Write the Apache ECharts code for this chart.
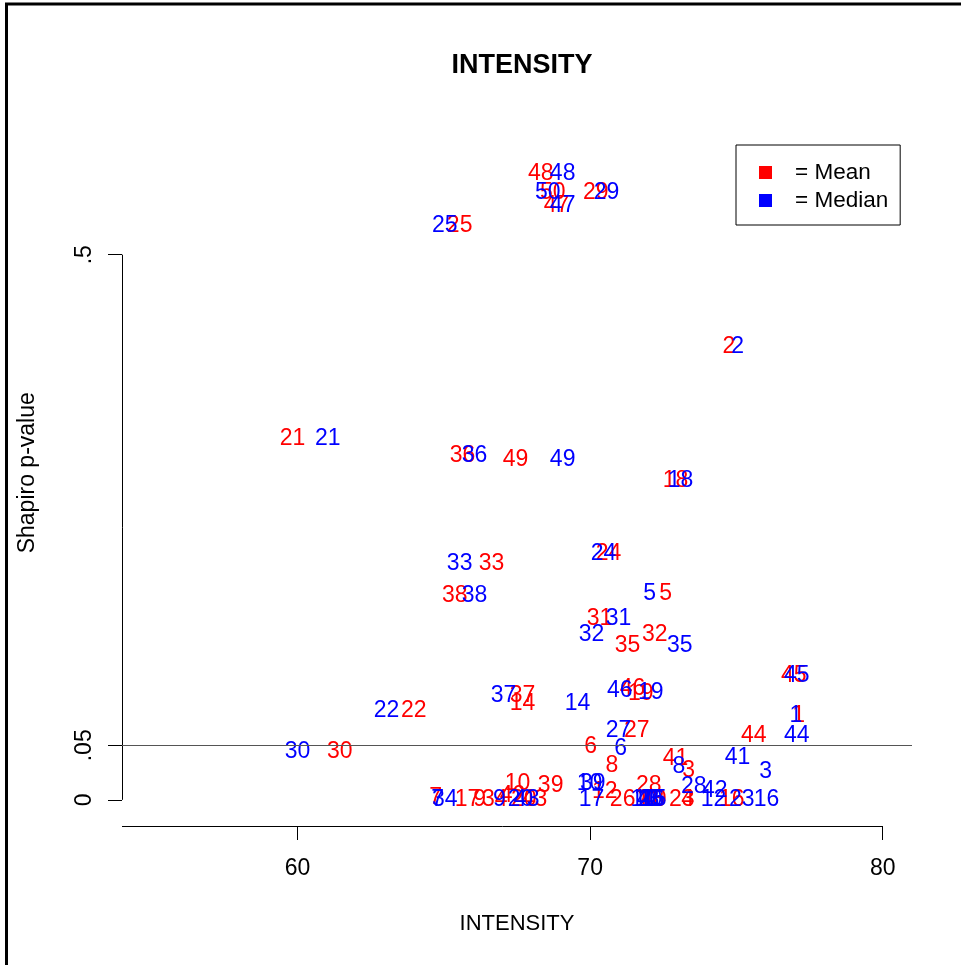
<!DOCTYPE html>
<html>
<head>
<meta charset="utf-8">
<script src="https://cdn.jsdelivr.net/npm/echarts@6/dist/echarts.min.js"></script>
<style>
  html, body { margin: 0; padding: 0; background: #fff; }
  #chart { width: 961px; height: 965px; }
</style>
</head>
<body>
<div id="chart"></div>
<script>
// Subject ids, drawn as text markers
const ids = [1, 2, 3, 4, 5, 6, 7, 8, 9, 10,
  11, 12, 13, 14, 15, 16, 17, 18, 19, 20,
  21, 22, 23, 24, 25, 26, 27, 28, 29, 30,
  31, 32, 33, 34, 35, 36, 37, 38, 39, 40,
  41, 42, 43, 44, 45, 46, 47, 48, 49, 50];

// Mean intensity per subject and its Shapiro p-value
const meanX = [77.13, 74.74, 73.37, 73.33, 72.58, 70.02, 64.72, 70.74, 66.22, 67.52,
  72.00, 70.50, 72.10, 67.69, 72.14, 74.84, 65.81, 72.92, 71.73, 67.73,
  59.83, 63.97, 73.13, 70.63, 65.54, 71.11, 71.59, 72.00, 70.19, 61.44,
  70.32, 72.21, 66.63, 66.74, 71.28, 65.64, 67.69, 65.37, 68.65, 72.17,
  72.92, 67.35, 68.10, 75.59, 76.96, 71.45, 68.85, 68.31, 67.45, 68.72];
const meanP = [0.0771, 0.416, 0.0266, 0.000, 0.189, 0.0487, 0.002, 0.0312, 0.000, 0.0147,
  0.000, 0.0073, 0.000, 0.0882, 0.000, 0.000, 0.000, 0.293, 0.0973, 0.000,
  0.3315, 0.0817, 0.000, 0.226, 0.527, 0.000, 0.0634, 0.0129, 0.5565, 0.0441,
  0.166, 0.1515, 0.2167, 0.000, 0.1414, 0.316, 0.0955, 0.187, 0.0129, 0.000,
  0.0377, 0.0037, 0.000, 0.0588, 0.1139, 0.102, 0.5446, 0.574, 0.312, 0.5565];

// Median intensity per subject and its Shapiro p-value
const medianX = [77.03, 75.04, 76.00, 72.00, 72.03, 71.04, 64.79, 73.03, 66.90, 69.98,
  71.79, 74.22, 71.93, 69.57, 72.17, 76.03, 70.05, 73.09, 72.07, 67.62,
  61.03, 63.04, 75.18, 70.46, 65.03, 72.10, 70.97, 73.54, 70.56, 60.00,
  70.97, 70.05, 65.54, 65.03, 73.06, 66.05, 67.04, 66.05, 70.09, 72.03,
  75.04, 74.26, 67.83, 77.06, 77.06, 71.01, 69.06, 69.06, 69.06, 68.55];
const medianP = [0.0771, 0.416, 0.0257, 0.000, 0.189, 0.0468, 0.000, 0.0303, 0.000, 0.0147,
  0.000, 0.000, 0.000, 0.0882, 0.000, 0.000, 0.000, 0.293, 0.0983, 0.000,
  0.3315, 0.0817, 0.000, 0.226, 0.527, 0.000, 0.0634, 0.0119, 0.5565, 0.0441,
  0.166, 0.1515, 0.2167, 0.000, 0.1414, 0.316, 0.0955, 0.187, 0.0147, 0.000,
  0.0386, 0.0083, 0.000, 0.0588, 0.1139, 0.100, 0.5446, 0.574, 0.312, 0.5565];

// Axis ticks
const xTicks = [60, 70, 80];
const yTicks = [0, 0.05, 0.5];
const yTickLabels = ['0', '.05', '.5'];
const cutoff = 0.05;

const FONT = 'Liberation Sans, Arial, sans-serif';
const X_MIN = 54, X_MAX = 81;
const Y_MIN = -0.024, Y_MAX = 0.624;

function points(xs, ps) {
  return ids.map((id, i) => [xs[i], ps[i], id]);
}

function textSeries(name, color, xs, ps, extra) {
  return Object.assign({
    name: name,
    type: 'scatter',
    xAxisIndex: 0,
    yAxisIndex: 0,
    symbol: 'rect',
    symbolSize: 0,
    itemStyle: { color: color, opacity: 1 },
    label: {
      show: true,
      position: 'inside',
      formatter: p => String(p.value[2]),
      color: color,
      opacity: 1,
      fontSize: 23,
      fontFamily: FONT,
      align: 'center',
      verticalAlign: 'middle'
    },
    emphasis: { disabled: true },
    silent: true,
    data: points(xs, ps)
  }, extra || {});
}

const gridRect = { left: 122, right: 49, top: 119.5, bottom: 139, containLabel: false };

const chart = echarts.init(document.getElementById('chart'), null, { renderer: 'canvas' });

chart.setOption({
  animation: false,
  backgroundColor: '#fff',
  title: {
    text: 'INTENSITY',
    left: 517,
    top: 47,
    textAlign: 'center',
    textStyle: { fontFamily: FONT, fontSize: 27, fontWeight: 'bold', color: '#000' }
  },
  legend: {
    orient: 'vertical',
    left: 736,
    top: 145,
    padding: [16, 12, 13, 23],
    itemGap: 5,
    itemWidth: 13,
    itemHeight: 13,
    icon: 'rect',
    borderColor: '#000',
    borderWidth: 1,
    backgroundColor: '#fff',
    itemStyle: { opacity: 1 },
    textStyle: { fontFamily: FONT, fontSize: 22.5, color: '#000', padding: [0, 0, 0, 18] },
    data: ['= Mean', '= Median']
  },
  // grid 0 holds the data; grid 1 (same rectangle) only carries the bottom axis
  grid: [Object.assign({}, gridRect), Object.assign({}, gridRect)],
  xAxis: [{
    type: 'value', gridIndex: 0, min: X_MIN, max: X_MAX, show: false
  }, {
    type: 'value',
    gridIndex: 1,
    min: X_MIN,
    max: X_MAX,
    position: 'bottom',
    name: 'INTENSITY',
    nameLocation: 'middle',
    nameGap: 87,
    nameTextStyle: { fontFamily: FONT, fontSize: 22, color: '#000' },
    axisLine: { show: false, onZero: false },
    splitLine: { show: false },
    axisTick: { show: true, customValues: xTicks, length: 14, lineStyle: { color: '#000' } },
    axisLabel: { customValues: xTicks, margin: 31, fontFamily: FONT, fontSize: 23, color: '#000' }
  }],
  yAxis: [{
    type: 'value',
    gridIndex: 0,
    min: Y_MIN,
    max: Y_MAX,
    name: 'Shapiro p-value',
    nameLocation: 'middle',
    nameGap: 83,
    nameTextStyle: { fontFamily: FONT, fontSize: 23, color: '#000' },
    axisLine: { show: false, onZero: false },
    splitLine: { show: false },
    axisTick: { show: true, customValues: yTicks, length: 14, lineStyle: { color: '#000' } },
    axisLabel: {
      customValues: yTicks,
      rotate: 90,
      margin: 26,
      fontFamily: FONT,
      fontSize: 23,
      color: '#000',
      formatter: v => {
        const k = yTicks.findIndex(t => Math.abs(t - v) < 1e-9);
        return k >= 0 ? yTickLabels[k] : '';
      }
    }
  }, {
    type: 'value', gridIndex: 1, min: 1, max: 2, show: false
  }],
  graphic: [{
    type: 'rect',
    silent: true,
    shape: { x: 6.5, y: 4, width: 1000, height: 1000 },
    style: { fill: 'none', stroke: '#000', lineWidth: 3 }
  }],
  series: [
    textSeries('= Mean', '#ff0000', meanX, meanP, {
      markLine: {
        silent: true,
        symbol: 'none',
        label: { show: false },
        emphasis: { disabled: true },
        lineStyle: { color: '#000', width: 1, type: 'solid', opacity: 1 },
        data: [
          [{ coord: [X_MIN, Y_MIN] }, { coord: [xTicks[xTicks.length - 1], Y_MIN] }],
          [{ coord: [X_MIN, yTicks[0]] }, { coord: [X_MIN, yTicks[yTicks.length - 1]] }],
          { yAxis: cutoff, lineStyle: { color: '#555', width: 1, type: 'solid' } }
        ]
      }
    }),
    textSeries('= Median', '#0000ff', medianX, medianP)
  ]
});
</script>
</body>
</html>
